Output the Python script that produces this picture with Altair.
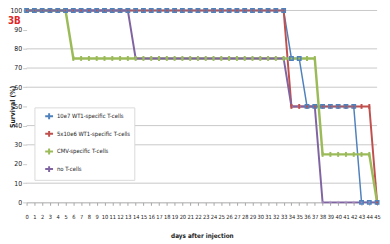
import altair as alt
import pandas as pd

days = list(range(0, 46))
series_names = ["10e7 WT1-specific T-cells", "5x10e6 WT1-specific T-cells",
                "CMV-specific T-cells", "no T-cells"]
s_10e7 = [100] * 34 + [75] * 2 + [50] * 7 + [0] * 3
s_5x10e6 = [100] * 34 + [50] * 11 + [0] * 1
s_cmv = [100] * 6 + [75] * 32 + [25] * 7 + [0] * 1
s_none = [100] * 14 + [75] * 20 + [50] * 4 + [0] * 8
y_ticks = list(range(0, 101, 10))
grid_values = [10, 30, 40, 60, 70, 80, 100]

colors = ["#4F81BD", "#C0504D", "#9BBB59", "#8064A2"]
FONT = "Liberation Sans Narrow, DejaVu Sans Condensed, Liberation Sans"

rows = []
for name, vals in zip(series_names, [s_10e7, s_5x10e6, s_cmv, s_none]):
    for d, v in zip(days, vals):
        rows.append({"series": name, "day": d, "survival": v})
df = pd.DataFrame(rows)
grid_df = pd.DataFrame({"g": grid_values})

xs = alt.Scale(domain=[0, 45], nice=False, zero=False)
ys = alt.Scale(domain=[0, 100], nice=False)
cs = alt.Scale(domain=series_names, range=colors)

x_axis = alt.Axis(values=days, labelOverlap=False, labelFlush=False, grid=False,
                  title="days after injection",
                  labelFont=FONT, labelFontSize=5.8, labelColor="#1a1a1a", labelPadding=8,
                  tickSize=3, tickColor="#A6A6A6", domainColor="#A6A6A6",
                  titleFont=FONT, titleFontSize=6.5, titleFontWeight="bold", titleColor="#1a1a1a",
                  titleY=34, titleBaseline="middle")
y_axis = alt.Axis(values=y_ticks, grid=False, domain=False, title="Survival (%)",
                  labelFont=FONT, labelFontSize=7, labelColor="#1a1a1a", labelPadding=1,
                  tickSize=4, tickColor="#C8C8C8",
                  titleFont=FONT, titleFontSize=7, titleFontWeight="bold", titleColor="#1a1a1a",
                  titleX=-18, titleBaseline="top")

legend = alt.Legend(title=None, orient="none", legendX=8, legendY=99,
                    fillColor="white", strokeColor="#D9D9D9", padding=4,
                    symbolOffset=6, symbolType="M-1,0L1,0M0,-0.75L0,0.75",
                    symbolSize=64, symbolStrokeWidth=2, rowPadding=4, labelOffset=3,
                    labelFont=FONT, labelFontSize=6, labelColor="#1a1a1a")

X = alt.X("day:Q", scale=xs, axis=x_axis)
Y = alt.Y("survival:Q", scale=ys, axis=y_axis)

grid = alt.Chart(grid_df).mark_rule(color="#C8C8C8", strokeWidth=1).encode(
    y=alt.Y("g:Q", scale=ys, axis=y_axis)
)

widths = [1.5, 2, 2.5, 2]
lines = []
for i, name in enumerate(series_names):
    lines.append(
        alt.Chart(df).transform_filter(alt.datum.series == name)
        .mark_line(strokeWidth=widths[i])
        .encode(
            x=X, y=Y,
            color=alt.Color("series:N", scale=cs, legend=legend, sort=series_names),
        )
    )

marker_specs = [
    dict(shape="M0,-1L0,1M-1,0L1,0", size=10, strokeWidth=1, opacity=0.6, color="#B3A2C7"),
    dict(shape="M0,-1L0,1", size=25, strokeWidth=2, opacity=1, color="#9BBB59"),
    dict(shape="M0,-1L0,1", size=25, strokeWidth=2, opacity=1, color="#C0504D"),
    dict(shape="square", size=12, strokeWidth=1.5, opacity=1, color="#4F81BD"),
]
marker_series = [series_names[3], series_names[2], series_names[1], series_names[0]]
points = []
for name, spec in zip(marker_series, marker_specs):
    points.append(
        alt.Chart(df).transform_filter(alt.datum.series == name)
        .mark_point(shape=spec["shape"], size=spec["size"], strokeWidth=spec["strokeWidth"],
                    opacity=spec["opacity"], color=spec["color"], filled=False)
        .encode(x=X, y=Y)
    )

chart = alt.layer(grid, *lines, *points).properties(
    width=358, height=196,
    autosize=alt.AutoSizeParams(type="none"),
    padding={"left": 19, "top": 0, "right": 5, "bottom": 40},
    title=alt.TitleParams("3B", anchor="start", frame="group", orient="top",
                          dx=-19, dy=30, offset=0, baseline="alphabetic",
                          color="#E32626", fontSize=10, fontWeight="bold", font=FONT),
).configure_view(stroke=None)

chart.save("out.html", embed_options={"renderer": "svg", "actions": False})
